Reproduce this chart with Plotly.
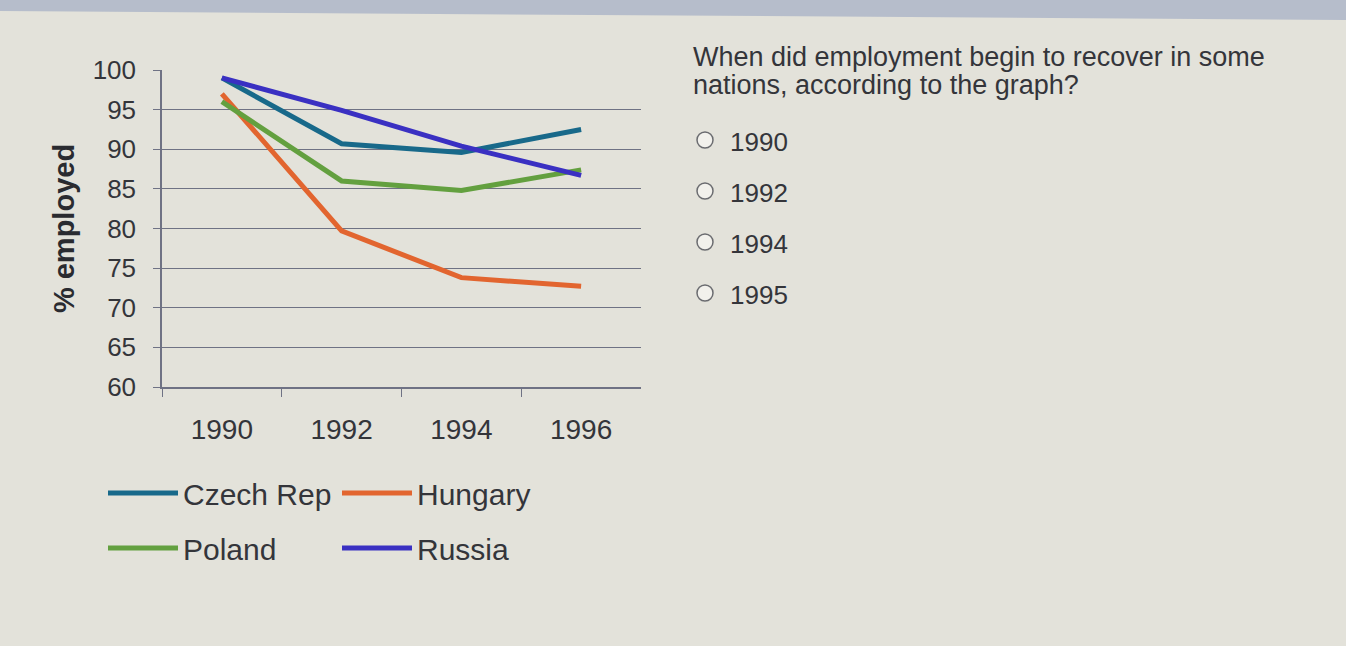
import plotly.graph_objects as go

# Employment index
years = ["1990", "1992", "1994", "1996"]
czech = [99.0, 90.7, 89.6, 92.5]
hungary = [97.0, 79.7, 73.8, 72.7]
poland = [96.0, 86.0, 84.8, 87.4]
russia = [99.0, 94.9, 90.4, 86.7]

question = ["When did employment begin to recover in some", "nations, according to the graph?"]
options = ["1990", "1992", "1994", "1995"]

W, H = 1346, 646
FONT = "Liberation Sans, Arial, sans-serif"
TXT = "#34353a"
GRID = "#6f7284"


def px(x):
    return x / W


def py(y):
    return 1 - y / H


fig = go.Figure()
series = [
    ("Czech Rep", czech, "#18698a", "legend"),
    ("Hungary", hungary, "#e2652f", "legend"),
    ("Poland", poland, "#63a03f", "legend2"),
    ("Russia", russia, "#3a30c2", "legend2"),
]
for name, vals, color, leg in series:
    fig.add_trace(go.Scatter(x=years, y=vals, name=name, mode="lines",
                             line=dict(color=color, width=5), legend=leg))

legend_style = dict(orientation="h", xanchor="left", yanchor="middle",
                    bgcolor="rgba(0,0,0,0)", itemwidth=70,
                    entrywidth=149, entrywidthmode="pixels",
                    font=dict(family=FONT, size=30, color=TXT),
                    itemclick=False, itemdoubleclick=False)

fig.update_layout(
    width=W, height=H,
    margin=dict(l=0, r=0, t=0, b=0, autoexpand=False),
    paper_bgcolor="#e3e2da",
    plot_bgcolor="rgba(0,0,0,0)",
    font=dict(family=FONT, size=27, color=TXT),
    legend=dict(x=px(103), y=py(493), **legend_style),
    legend2=dict(x=px(103), y=py(548), **legend_style),
    xaxis=dict(domain=[px(162), px(641)], type="category", range=[-0.5, 3.5],
               tickson="boundaries", ticks="outside", ticklen=8,
               tickcolor=GRID, showline=True, linecolor=GRID, linewidth=1.5,
               showgrid=False, ticklabelstandoff=17, automargin=False,
               tickfont=dict(size=28, color=TXT), fixedrange=True),
    yaxis=dict(domain=[py(387), py(70)], range=[60, 100], dtick=5,
               ticks="outside", ticklen=7, tickcolor=GRID,
               showline=True, linecolor=GRID, linewidth=1.5,
               showgrid=True, gridcolor=GRID, gridwidth=1.3,
               zeroline=False, ticklabelstandoff=12, automargin=False,
               tickfont=dict(size=26, color=TXT),
               title=dict(text="% employed", standoff=10,
                          font=dict(size=29, color="#2a2b30", weight="bold")),
               fixedrange=True),
    showlegend=True,
)

# screen bezel strip at the top of the photo
fig.add_shape(type="path", xref="paper", yref="paper",
              path=f"M 0 1 L 1 1 L 1 {py(20)} L 0 {py(11)} Z",
              fillcolor="#b6bdcb", line=dict(width=0), layer="below")

# question text
for i, line in enumerate(question):
    fig.add_annotation(x=px(691), y=py(57 + 28 * i), xref="paper", yref="paper",
                       text=line, showarrow=False, xanchor="left", yanchor="middle",
                       font=dict(size=27, color=TXT))

# radio options
for i, opt in enumerate(options):
    cy = 140 + 51 * i
    fig.add_shape(type="circle", xref="paper", yref="paper",
                  x0=px(697), x1=px(713), y0=py(cy + 8), y1=py(cy - 8),
                  line=dict(color="#6b6c70", width=1.5), fillcolor="#f2f1ec")
    fig.add_annotation(x=px(728), y=py(cy + 2), xref="paper", yref="paper",
                       text=opt, showarrow=False, xanchor="left", yanchor="middle",
                       font=dict(size=26, color=TXT))

fig.write_html("out.html", config={"displayModeBar": False},
               post_script="document.body.style.margin='0';")
